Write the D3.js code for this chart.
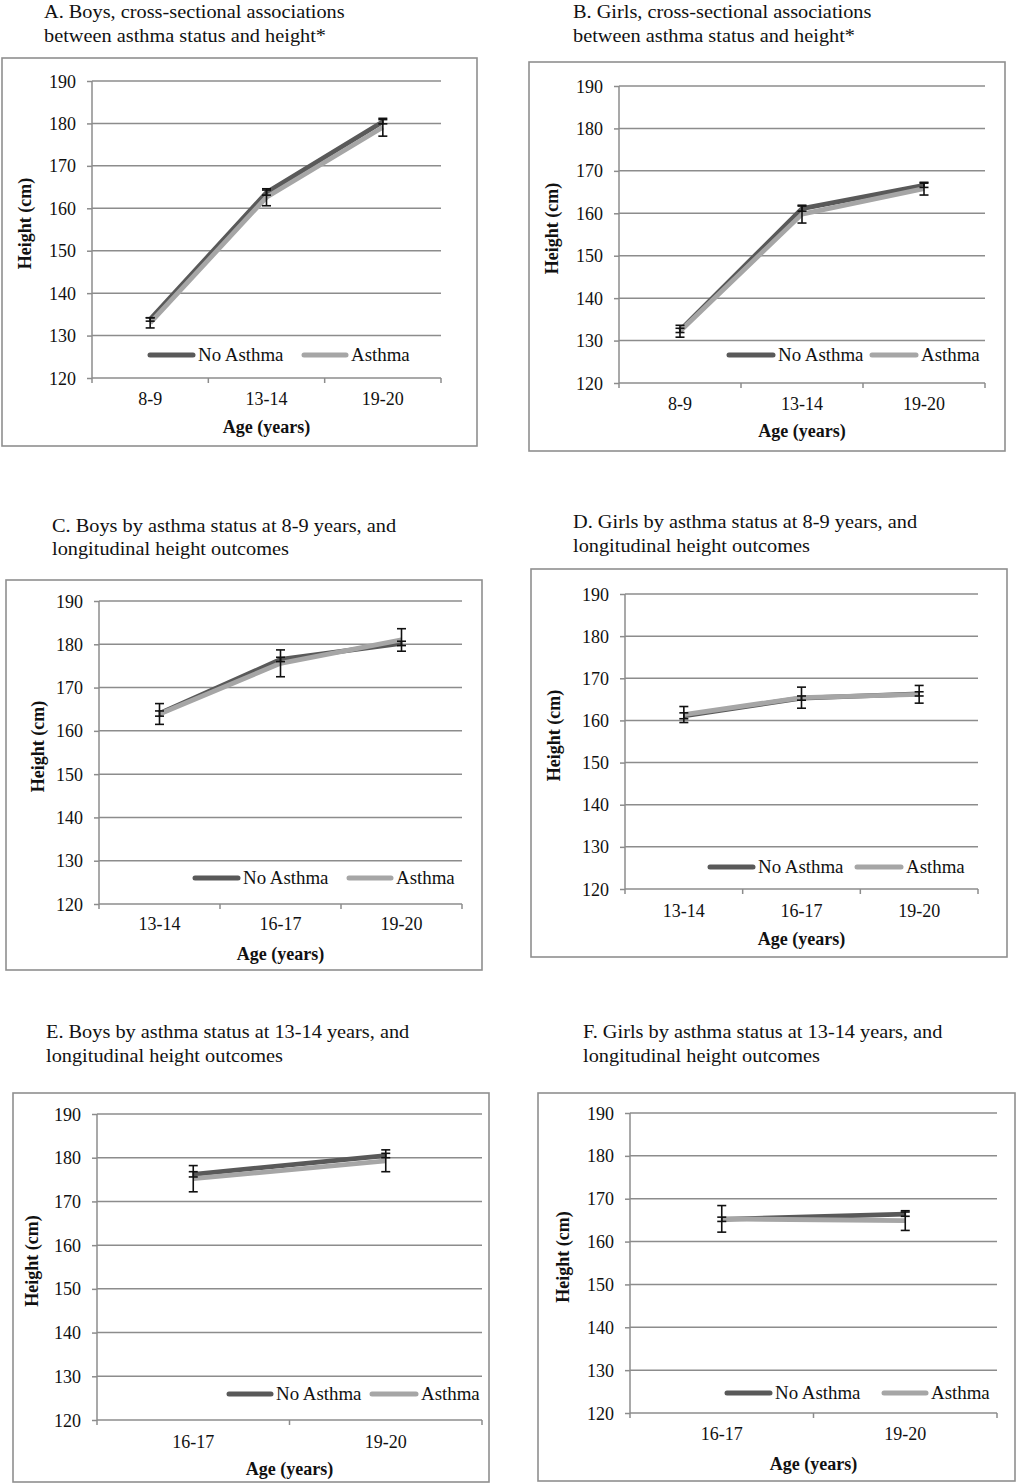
<!DOCTYPE html>
<html>
<head>
<meta charset="utf-8">
<script src="https://cdn.jsdelivr.net/npm/d3@7"></script>
<style>
  html, body { margin: 0; padding: 0; background: #fff; }
  svg { display: block; }
  text { font-family: "Liberation Serif", "Times New Roman", serif; fill: #111; }
</style>
</head>
<body>
<svg id="chart" width="1036" height="1483"></svg>
<script>
// ---------------- DATA ----------------
const yTicks = [120, 130, 140, 150, 160, 170, 180, 190];
const seriesNames = ["No Asthma", "Asthma"];

const titleA = ["A. Boys, cross-sectional associations", "between asthma status and height*"];
const catsA = ["8-9", "13-14", "19-20"];
const noAsthmaA = [133.8, 163.7, 180.4];
const asthmaA = [133.0, 162.6, 179.1];
const errNoAsthmaA = [0.4, 0.6, 0.5];
const errAsthmaA = [1.2, 2.0, 2.1];

const titleB = ["B. Girls, cross-sectional associations", "between asthma status and height*"];
const catsB = ["8-9", "13-14", "19-20"];
const noAsthmaB = [132.4, 161.1, 166.6];
const asthmaB = [132.2, 159.8, 165.8];
const errNoAsthmaB = [0.5, 0.6, 0.5];
const errAsthmaB = [1.4, 2.1, 1.5];

const titleC = ["C. Boys by asthma status at 8-9 years, and", "longitudinal height outcomes"];
const catsC = ["13-14", "16-17", "19-20"];
const noAsthmaC = [164.0, 176.5, 180.2];
const asthmaC = [163.9, 175.6, 181.0];
const errNoAsthmaC = [0.6, 0.5, 0.5];
const errAsthmaC = [2.4, 3.1, 2.6];

const titleD = ["D. Girls by asthma status at 8-9 years, and", "longitudinal height outcomes"];
const catsD = ["13-14", "16-17", "19-20"];
const noAsthmaD = [161.1, 165.3, 166.3];
const asthmaD = [161.4, 165.4, 166.2];
const errNoAsthmaD = [0.7, 0.5, 0.5];
const errAsthmaD = [1.9, 2.5, 2.1];

const titleE = ["E. Boys by asthma status at 13-14 years, and", "longitudinal height outcomes"];
const catsE = ["16-17", "19-20"];
const noAsthmaE = [176.2, 180.5];
const asthmaE = [175.2, 179.3];
const errNoAsthmaE = [0.6, 0.5];
const errAsthmaE = [3.0, 2.5];

const titleF = ["F. Girls by asthma status at 13-14 years, and", "longitudinal height outcomes"];
const catsF = ["16-17", "19-20"];
const noAsthmaF = [165.2, 166.4];
const asthmaF = [165.3, 164.9];
const errNoAsthmaF = [0.5, 0.5];
const errAsthmaF = [3.1, 2.3];

// ---------------- LAYOUT ----------------
const panels = [
  { title: titleA, cats: catsA, s: [noAsthmaA, asthmaA], e: [errNoAsthmaA, errAsthmaA],
    box: [2, 58, 477, 446], plot: [92, 441, 81, 378], tx: 44, tb: [18, 42],
    leg: { y: 355, d: [148, 195], l: [302, 348] }, ytx: 25, xlb: 405, xtb: 433 },
  { title: titleB, cats: catsB, s: [noAsthmaB, asthmaB], e: [errNoAsthmaB, errAsthmaB],
    box: [529, 62, 1005, 451], plot: [619, 985, 86, 383], tx: 573, tb: [18, 42],
    leg: { y: 355, d: [727, 775], l: [870, 918] }, ytx: 552, xlb: 410, xtb: 437 },
  { title: titleC, cats: catsC, s: [noAsthmaC, asthmaC], e: [errNoAsthmaC, errAsthmaC],
    box: [6, 580, 482, 970], plot: [99, 462, 601, 904], tx: 52, tb: [532, 555],
    leg: { y: 878, d: [193, 240], l: [347, 393] }, ytx: 38, xlb: 930, xtb: 960 },
  { title: titleD, cats: catsD, s: [noAsthmaD, asthmaD], e: [errNoAsthmaD, errAsthmaD],
    box: [531, 569, 1007, 957], plot: [625, 978, 594, 889], tx: 573, tb: [528, 552],
    leg: { y: 867, d: [708, 755], l: [855, 903] }, ytx: 554, xlb: 917, xtb: 945 },
  { title: titleE, cats: catsE, s: [noAsthmaE, asthmaE], e: [errNoAsthmaE, errAsthmaE],
    box: [13, 1093, 489, 1482], plot: [97, 482, 1114, 1420], tx: 46, tb: [1038, 1062],
    leg: { y: 1394, d: [227, 273], l: [370, 418] }, ytx: 32, xlb: 1448, xtb: 1475 },
  { title: titleF, cats: catsF, s: [noAsthmaF, asthmaF], e: [errNoAsthmaF, errAsthmaF],
    box: [538, 1093, 1015, 1481], plot: [630, 997, 1113, 1413], tx: 583, tb: [1038, 1062],
    leg: { y: 1393, d: [725, 772], l: [882, 928] }, ytx: 563, xlb: 1440, xtb: 1470 }
];

const colors = ["#595959", "#a6a6a6"];
const gridColor = "#8c8c8c";
const FS = 18;

const svg = d3.select("#chart");

panels.forEach(p => {
  const g = svg.append("g");
  const [x0, x1, yT, yB] = p.plot;

  // title
  p.title.forEach((t, i) => {
    g.append("text").attr("transform", `translate(${p.tx},${p.tb[i]}) scale(1.07,1)`)
      .attr("font-size", 19).text(t);
  });

  // border
  g.append("rect")
    .attr("x", p.box[0]).attr("y", p.box[1])
    .attr("width", p.box[2] - p.box[0]).attr("height", p.box[3] - p.box[1])
    .attr("fill", "none").attr("stroke", "#8f8f8f").attr("stroke-width", 1.6);

  const y = d3.scaleLinear().domain([120, 190]).range([yB, yT]);
  const x = d3.scaleBand().domain(p.cats).range([x0, x1]).padding(0);
  const cx = c => x(c) + x.bandwidth() / 2;

  // gridlines
  g.append("g").selectAll("line").data(yTicks.slice(1)).join("line")
    .attr("x1", x0).attr("x2", x1)
    .attr("y1", d => y(d)).attr("y2", d => y(d))
    .attr("stroke", gridColor).attr("stroke-width", 1.5);

  // y axis
  const ya = g.append("g").attr("transform", `translate(${x0},0)`)
    .call(d3.axisLeft(y).tickValues(yTicks).tickSize(5).tickPadding(11).tickFormat(d3.format("d")));
  ya.select(".domain").attr("stroke", gridColor).attr("stroke-width", 1.5).attr("d", `M0,${yT}V${yB}`);
  ya.selectAll(".tick line").attr("stroke", gridColor).attr("stroke-width", 1.5);
  ya.selectAll(".tick text").attr("font-size", FS).attr("font-family", "Liberation Serif").attr("fill", "#111").attr("dy", "0.34em");

  // x axis (baseline at 120)
  const bounds = [x0].concat(p.cats.map(c => x(c) + x.bandwidth()));
  g.append("line").attr("x1", x0).attr("x2", x1).attr("y1", yB).attr("y2", yB)
    .attr("stroke", gridColor).attr("stroke-width", 1.6);
  g.append("g").selectAll("line").data(bounds).join("line")
    .attr("x1", d => d).attr("x2", d => d).attr("y1", yB).attr("y2", yB + 5)
    .attr("stroke", gridColor).attr("stroke-width", 1.5);
  g.append("g").selectAll("text").data(p.cats).join("text")
    .attr("x", d => cx(d)).attr("y", p.xlb).attr("text-anchor", "middle")
    .attr("font-size", FS).text(d => d);

  // axis titles
  g.append("text").attr("x", (x0 + x1) / 2).attr("y", p.xtb).attr("text-anchor", "middle")
    .attr("font-size", FS).attr("font-weight", "bold").text("Age (years)");
  const ymid = (yT + yB) / 2 - 6;
  g.append("text").attr("transform", `translate(${p.ytx},${ymid}) rotate(-90)`)
    .attr("text-anchor", "middle").attr("dy", "0.35em")
    .attr("font-size", FS).attr("font-weight", "bold").text("Height (cm)");

  // legend
  const legs = [p.leg.d, p.leg.l];
  legs.forEach((lx, i) => {
    g.append("line").attr("x1", lx[0] + 2).attr("x2", lx[1] - 2)
      .attr("y1", p.leg.y).attr("y2", p.leg.y)
      .attr("stroke", colors[i]).attr("stroke-width", 5).attr("stroke-linecap", "round");
    g.append("text").attr("transform", `translate(${lx[1] + 3},${p.leg.y}) scale(1.05,1)`)
      .attr("dy", "0.35em").attr("font-size", FS).text(seriesNames[i]);
  });

  // lines
  const line = d3.line().x(d => cx(d.c)).y(d => y(d.v));
  p.s.forEach((vals, i) => {
    const pts = p.cats.map((c, j) => ({ c, v: vals[j] }));
    g.append("path").datum(pts).attr("d", line)
      .attr("fill", "none").attr("stroke", colors[i]).attr("stroke-width", 4.8)
      .attr("stroke-linejoin", "round");
  });

  // error bars
  p.s.forEach((vals, i) => {
    p.cats.forEach((c, j) => {
      const xc = cx(c), lo = y(vals[j] - p.e[i][j]), hi = y(vals[j] + p.e[i][j]);
      const eg = g.append("g").attr("stroke", "#111").attr("stroke-width", 1.6);
      eg.append("line").attr("x1", xc).attr("x2", xc).attr("y1", lo).attr("y2", hi);
      eg.append("line").attr("x1", xc - 4.5).attr("x2", xc + 4.5).attr("y1", lo).attr("y2", lo);
      eg.append("line").attr("x1", xc - 4.5).attr("x2", xc + 4.5).attr("y1", hi).attr("y2", hi);
    });
  });
});
</script>
</body>
</html>
